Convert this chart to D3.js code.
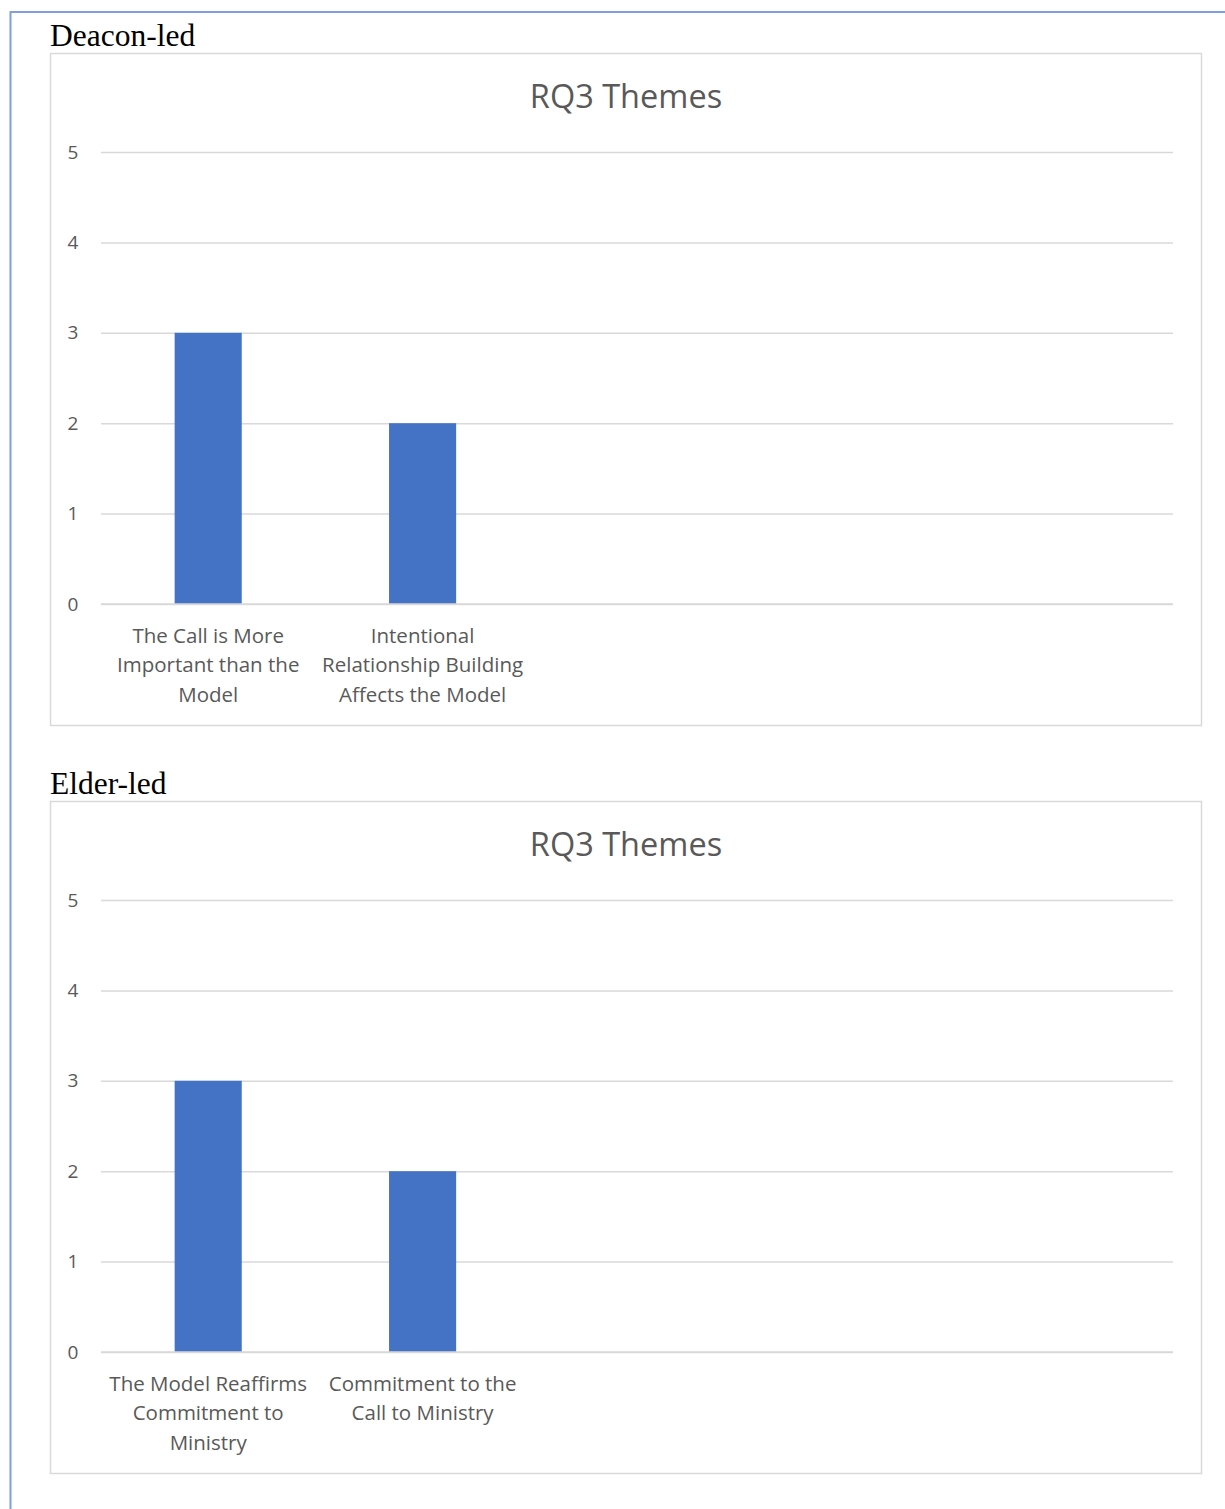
<!DOCTYPE html>
<html><head><meta charset="utf-8">
<script src="https://cdn.jsdelivr.net/npm/d3@7"></script>
<style>
html,body{margin:0;padding:0;background:#fff;}
svg{display:block;}
</style></head>
<body>
<svg id="c" width="1225" height="1509"></svg>
<script>
// ---- data ----
const chartTitle = "RQ3 Themes";
const panelNames = ["Deacon-led", "Elder-led"];
const deaconCategories = [
  ["The Call is More", "Important than the", "Model"],
  ["Intentional", "Relationship Building", "Affects the Model"],
  [], [], []
];
const deaconValues = [3, 2, null, null, null];
const elderCategories = [
  ["The Model Reaffirms", "Commitment to", "Ministry"],
  ["Commitment to the", "Call to Ministry"],
  [], [], []
];
const elderValues = [3, 2, null, null, null];
const yTicks = [0, 1, 2, 3, 4, 5];

const svg = d3.select("#c");
const grey = "#595959";
const gridCol = "#d9d9d9";
const barCol = "#4472c4";

// outer page border (blue)
svg.append("line").attr("x1",10.5).attr("x2",10.5).attr("y1",11).attr("y2",1509)
  .attr("stroke","#7fa0d8").attr("stroke-width",2);
svg.append("line").attr("x1",10).attr("x2",1225).attr("y1",12).attr("y2",12)
  .attr("stroke","#7fa0d8").attr("stroke-width",2);

const panels = [
  {name: panelNames[0], cats: deaconCategories, vals: deaconValues, top: 53},
  {name: panelNames[1], cats: elderCategories, vals: elderValues, top: 801}
];

panels.forEach(p => {
  const g = svg.append("g");
  // heading
  g.append("text").attr("x", 50).attr("y", p.top - 7)
    .attr("font-family", "Liberation Serif, Times New Roman, serif")
    .attr("font-size", 31.5).attr("fill", "#000").text(p.name);
  // chart box
  g.append("rect").attr("x", 50.5).attr("y", p.top + 0.5)
    .attr("width", 1151).attr("height", 672)
    .attr("fill", "#fff").attr("stroke", gridCol).attr("stroke-width", 1.5);
  // title
  g.append("text").attr("x", 626).attr("y", p.top + 55)
    .attr("text-anchor", "middle")
    .attr("font-family", "Open Sans, sans-serif")
    .attr("font-size", 32.5).attr("fill", grey).text(chartTitle);

  const y = d3.scaleLinear().domain([0, 5]).range([p.top + 551, p.top + 99]);
  const x = d3.scaleBand().domain(d3.range(p.vals.length)).range([101, 1173])
    .paddingInner(0.687).paddingOuter(0.3435);

  // gridlines
  const yAxis = d3.axisLeft(y).tickValues(yTicks).tickSize(-(1173 - 101)).tickFormat(d3.format("d"));
  const ga = g.append("g").attr("transform", "translate(101,0)").call(yAxis);
  ga.select(".domain").remove();
  ga.selectAll(".tick line").attr("stroke", gridCol).attr("stroke-width", 1.5);
  ga.selectAll(".tick text").attr("x", -28).attr("fill", grey)
    .attr("font-family", "Open Sans, sans-serif").attr("font-size", 19)
    .attr("text-anchor", "middle");

  // bars
  g.selectAll("rect.bar").data(p.vals.map((v, i) => ({v, i})).filter(d => d.v != null))
    .enter().append("rect").attr("class", "bar")
    .attr("x", d => x(d.i)).attr("width", x.bandwidth())
    .attr("y", d => y(d.v)).attr("height", d => y(0) - y(d.v))
    .attr("fill", barCol);

  // redraw baseline over bars
  g.append("line").attr("x1", 101).attr("x2", 1173)
    .attr("y1", y(0)).attr("y2", y(0)).attr("stroke", gridCol).attr("stroke-width", 1.5);

  // category labels
  p.cats.forEach((lines, i) => {
    const cx = x(i) + x.bandwidth() / 2;
    const t = g.append("text").attr("text-anchor", "middle")
      .attr("font-family", "Open Sans, sans-serif").attr("font-size", 20.5)
      .attr("fill", grey);
    lines.forEach((ln, j) => {
      t.append("tspan").attr("x", cx).attr("y", y(0) + 39 + j * 29.3).text(ln);
    });
  });
});
</script>
</body></html>
